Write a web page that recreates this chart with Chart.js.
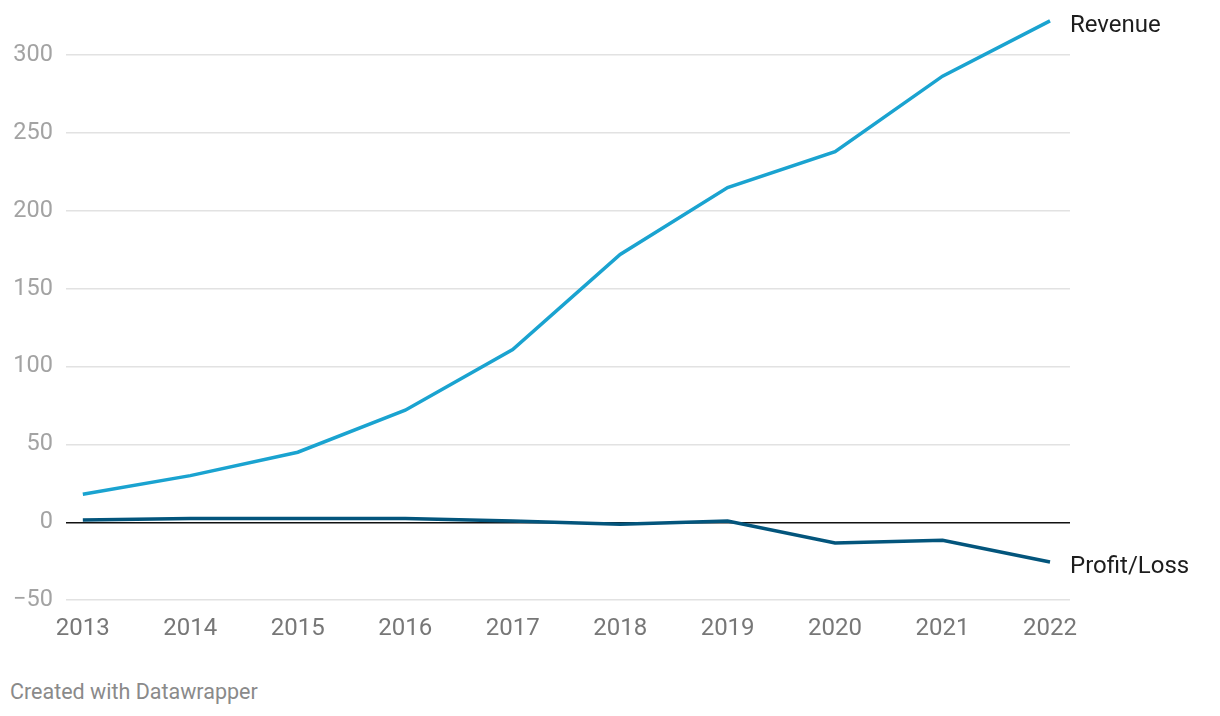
<!DOCTYPE html>
<html>
<head>
<meta charset="utf-8">
<script src="https://cdn.jsdelivr.net/npm/chart.js@4"></script>
<style>
  html, body { margin: 0; padding: 0; background: #fff; }
  #wrap { position: relative; width: 1220px; height: 716px; }
  #note { position: absolute; left: 10px; top: 679px; font: 21.5px Roboto, sans-serif; color: #8a8a8a; }
</style>
</head>
<body>
<div id="wrap">
  <canvas id="statsChart" width="1220" height="665"></canvas>
  <div id="note">Created with Datawrapper</div>
</div>
<script>
    var years = [2013, 2014, 2015, 2016, 2017, 2018, 2019, 2020, 2021, 2022];
    var revenue = [18, 30, 45, 72, 111, 172, 215, 238, 286.5, 322];
    var profitLoss = [1.5, 2.5, 2.5, 2.5, 0.8, -1.2, 0.8, -13.2, -11.5, -25.5];
    var yTicks = [-50, 0, 50, 100, 150, 200, 250, 300];

    // end-of-line labels, placed from the last data point of each series
    var endLabels = {
        id: 'endLabels',
        afterDatasetsDraw: function (chart) {
            var c = chart.ctx;
            c.save();
            c.font = '24px Roboto';
            c.fillStyle = '#1d1d1d';
            c.textBaseline = 'middle';
            chart.data.datasets.forEach(function (ds, i) {
                var pts = chart.getDatasetMeta(i).data;
                var p = pts[pts.length - 1];
                c.fillText(ds.label, p.x + 20, p.y + 5);
            });
            c.restore();
        }
    };

    var ctx = document.getElementById('statsChart').getContext('2d');
    var statsChart = new Chart(ctx, {
        type: 'line',
        data: {
            datasets: [{
                label: 'Revenue',
                data: years.map(function (y, i) { return { x: y, y: revenue[i] }; }),
                borderColor: '#1aa3d0',
                borderWidth: 3.5,
                pointRadius: 0,
                tension: 0,
                clip: false
            }, {
                label: 'Profit/Loss',
                data: years.map(function (y, i) { return { x: y, y: profitLoss[i] }; }),
                borderColor: '#03557c',
                borderWidth: 3.5,
                pointRadius: 0,
                tension: 0,
                clip: false
            }]
        },
        options: {
            responsive: false,
            animation: false,
            layout: { padding: { top: 0, right: 150, bottom: 16, left: 0 } },
            plugins: { legend: { display: false }, tooltip: { enabled: false } },
            scales: {
                x: {
                    type: 'linear',
                    min: 2012.842,
                    max: 2022.186,
                    grid: { display: false },
                    border: { display: false },
                    ticks: {
                        stepSize: 1,
                        includeBounds: false,
                        autoSkip: false,
                        maxRotation: 0,
                        padding: 6,
                        color: '#777777',
                        font: { family: 'Roboto', size: 24 },
                        callback: function (v) { return String(v); }
                    }
                },
                y: {
                    min: -50,
                    max: 318,
                    border: { display: false },
                    grid: {
                        drawTicks: false,
                        color: function (c) { return c.tick.value === 0 ? '#111111' : '#e2e2e2'; },
                        lineWidth: 1.5
                    },
                    afterBuildTicks: function (axis) {
                        axis.ticks = yTicks.map(function (v) { return { value: v }; });
                    },
                    ticks: {
                        padding: 13,
                        color: '#a3a3a3',
                        font: { family: 'Roboto', size: 23.5 },
                        callback: function (v) { return v < 0 ? '\u2212' + Math.abs(v) : String(v); }
                    }
                }
            }
        },
        plugins: [endLabels]
    });
</script>
</body>
</html>
